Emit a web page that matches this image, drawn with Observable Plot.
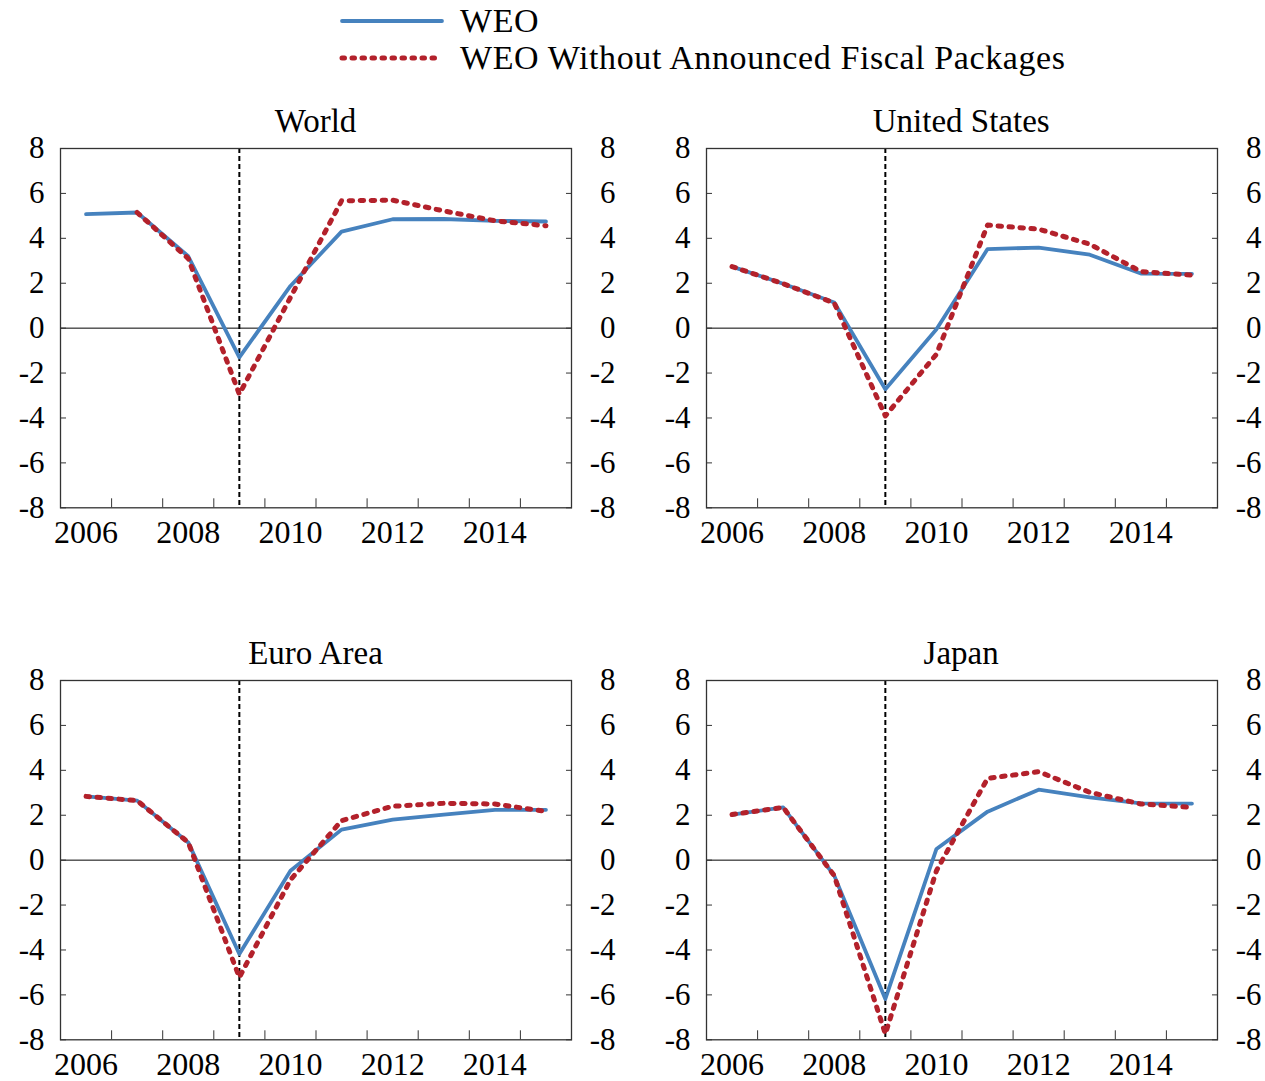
<!DOCTYPE html>
<html><head><meta charset="utf-8">
<script src="https://cdn.jsdelivr.net/npm/d3@7"></script>
<script src="https://cdn.jsdelivr.net/npm/@observablehq/plot@0.6"></script>
<style>
body{margin:0;background:#fff;font-family:"Liberation Serif","Times New Roman",serif;color:#000;}
#root{position:relative;width:1265px;height:1081px;overflow:hidden;}
.title{position:absolute;font-size:33px;text-align:center;width:511px;line-height:1;white-space:nowrap;}
.leg{position:absolute;font-size:34px;letter-spacing:0.6px;line-height:1;white-space:nowrap;}
.panel{position:absolute;width:640px;}
.panel svg{max-width:none !important;}
</style></head><body><div id="root"></div>
<script>
const years = [2006, 2007, 2008, 2009, 2010, 2011, 2012, 2013, 2014, 2015];
const regions = ["World", "United States", "Euro Area", "Japan"];
const seriesNames = ["WEO", "WEO Without Announced Fiscal Packages"];
const yTicks = [-8, -6, -4, -2, 0, 2, 4, 6, 8];
const xLabelYears = [2006, 2008, 2010, 2012, 2014];
const xTickBounds = [2006.5, 2007.5, 2008.5, 2009.5, 2010.5, 2011.5, 2012.5, 2013.5, 2014.5];
const markerYear = [2009];

const weoWorld = [5.08, 5.15, 3.2, -1.3, 1.88, 4.3, 4.85, 4.86, 4.78, 4.75];
const noFiscalWorld = [null, 5.15, 3.1, -2.94, 1.37, 5.67, 5.70, 5.22, 4.78, 4.56];
const weoUS = [2.74, 1.98, 1.14, -2.72, -0.05, 3.52, 3.59, 3.27, 2.43, 2.42];
const noFiscalUS = [2.74, 1.98, 1.12, -3.91, -1.16, 4.59, 4.41, 3.74, 2.52, 2.36];
const weoEuro = [2.84, 2.65, 0.79, -4.18, -0.47, 1.36, 1.80, 2.03, 2.24, 2.24];
const noFiscalEuro = [2.84, 2.65, 0.79, -5.22, -0.88, 1.76, 2.40, 2.53, 2.50, 2.17];
const weoJapan = [2.03, 2.35, -0.69, -6.18, 0.50, 2.16, 3.14, 2.80, 2.53, 2.52];
const noFiscalJapan = [2.03, 2.35, -0.69, -7.74, -0.47, 3.64, 3.94, 3.02, 2.50, 2.35];

const blue = "#4682be";
const red = "#b3212b";
const weoSeries = [weoWorld, weoUS, weoEuro, weoJapan];
const noFiscalSeries = [noFiscalWorld, noFiscalUS, noFiscalEuro, noFiscalJapan];

const plotLeft = [60, 705.7, 60, 705.7];
const plotTop = [147.7, 147.7, 680, 680];
const mL = 60, mR = 69, mT = 10, mB = 41, W = 640, H = 410.3;

const root = document.getElementById("root");

function rows(arr) {
  return years.map((y, i) => ({year: y, value: arr[i]})).filter(d => d.value != null);
}

regions.forEach((name, k) => {
  const chart = Plot.plot({
    width: W, height: H,
    marginLeft: mL, marginRight: mR, marginTop: mT, marginBottom: mB,
    style: {fontFamily: "'Liberation Serif','Times New Roman',serif", fontSize: "32px", background: "transparent", overflow: "visible", color: "#000", maxWidth: "none"},
    x: {domain: [2005.5, 2015.5], axis: null},
    y: {domain: [-8, 8], axis: null},
    marks: [
      Plot.ruleY([0], {stroke: "#000", strokeWidth: 1}),
      Plot.ruleX(markerYear, {stroke: "#000", strokeWidth: 2, strokeDasharray: "5,3"}),
      Plot.axisY(yTicks, {anchor: "left", tickSize: -6, tickFormat: () => "", label: null, stroke: "#333"}),
      Plot.axisY(yTicks, {anchor: "right", tickSize: -6, tickFormat: () => "", label: null, stroke: "#333"}),
      Plot.axisX(xTickBounds, {anchor: "bottom", tickSize: -9, tickFormat: () => "", label: null, stroke: "#333"}),
      Plot.frame({stroke: "#333", strokeWidth: 1.3}),
      Plot.text(yTicks, {y: d => d, text: d => String(d), frameAnchor: "left", dx: -16, textAnchor: "end", fontSize: 31}),
      Plot.text(yTicks, {y: d => d, text: d => String(d), frameAnchor: "right", dx: 44, textAnchor: "end", fontSize: 31}),
      Plot.text(xLabelYears, {x: d => d, text: d => String(d), frameAnchor: "bottom", dy: 25, lineAnchor: "middle", fontSize: 32}),
      Plot.line(rows(weoSeries[k]), {x: "year", y: "value", stroke: blue, strokeWidth: 3.8}),
      Plot.line(rows(noFiscalSeries[k]), {x: "year", y: "value", stroke: red, strokeWidth: 5, strokeDasharray: "3.5,7.5", strokeLinecap: "round"})
    ]
  });
  const wrap = document.createElement("div");
  wrap.className = "panel";
  wrap.style.left = (plotLeft[k] - mL) + "px";
  wrap.style.top = (plotTop[k] - mT) + "px";
  wrap.appendChild(chart);
  root.appendChild(wrap);

  const t = document.createElement("div");
  t.className = "title";
  t.textContent = name;
  t.style.left = plotLeft[k] + "px";
  t.style.top = (plotTop[k] - 43) + "px";
  root.appendChild(t);
});

// legend
const legNS = "http://www.w3.org/2000/svg";
const legSvg = document.createElementNS(legNS, "svg");
legSvg.setAttribute("width", 120); legSvg.setAttribute("height", 80);
legSvg.style.position = "absolute"; legSvg.style.left = "330px"; legSvg.style.top = "0px";
[[21, blue, null, 3.8], [58, red, "2.5,7.5", 5]].forEach(([yy, c, da, sw]) => {
  const l = document.createElementNS(legNS, "line");
  l.setAttribute("x1", 12); l.setAttribute("x2", 112); l.setAttribute("y1", yy); l.setAttribute("y2", yy);
  l.setAttribute("stroke", c); l.setAttribute("stroke-width", sw);
  l.setAttribute("stroke-linecap", "round");
  if (da) l.setAttribute("stroke-dasharray", da);
  legSvg.appendChild(l);
});
root.appendChild(legSvg);
seriesNames.forEach((s, i) => {
  const d = document.createElement("div");
  d.className = "leg";
  d.textContent = s;
  d.style.left = "460px";
  d.style.top = (i === 0 ? 4 : 41) + "px";
  root.appendChild(d);
});
</script></body></html>
